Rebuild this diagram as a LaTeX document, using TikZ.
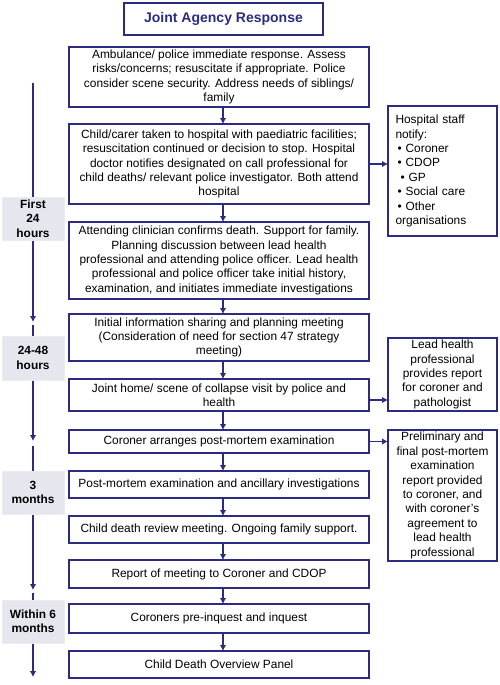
\documentclass[tikz,border=0pt]{standalone}
\usepackage{fontspec}
\setmainfont{Liberation Sans}
\usetikzlibrary{arrows.meta}
\definecolor{navy}{RGB}{43,43,128}
\definecolor{lblgray}{RGB}{230,230,239}
\begin{document}
\begin{tikzpicture}[x=1pt,y=-1pt,
  every node/.style={inner sep=0pt,outer sep=0pt},
  mainbox/.style={draw=navy,line width=1.5pt,minimum width=300pt,align=center,font=\fontsize{11.9}{14.4}\selectfont},
  sidebox/.style={draw=navy,line width=1.5pt,minimum width=109pt,font=\fontsize{11.9}{14.4}\selectfont},
  timelbl/.style={fill=lblgray,draw=lblgray!80!white,line width=0.4pt,minimum width=62pt,align=center,font=\bfseries\fontsize{11.9}{14.4}\selectfont},
  titlebox/.style={draw=navy,line width=1.7pt,minimum width=199pt,minimum height=32pt,font=\bfseries\fontsize{14}{16}\selectfont,text=navy},
  flow/.style={draw=navy,line width=1.5pt,-{Latex[length=6pt,width=6.5pt]}}
]
\useasboundingbox (0,0) rectangle (500,685);
\fill[white] (0,0) rectangle (500,685);

% title
\node[titlebox] (title) at (223.5,19) {Joint Agency Response};

% main column
\node[mainbox,minimum height=60pt] (b1) at (219,77) {Ambulance/ police immediate response. Assess\\risks/concerns; resuscitate if appropriate. Police\\consider scene security. Address needs of siblings/\\family};
\node[mainbox,minimum height=80pt] (b2) at (219,164) {Child/carer taken to hospital with paediatric facilities;\\resuscitation continued or decision to stop. Hospital\\doctor notifies designated on call professional for\\child deaths/ relevant police investigator. Both attend\\hospital};
\node[mainbox,minimum height=77pt] (b3) at (219,260.5) {Attending clinician confirms death. Support for family.\\Planning discussion between lead health\\professional and attending police officer. Lead health\\professional and police officer take initial history,\\examination, and initiates immediate investigations};
\node[mainbox,minimum height=47pt] (b4) at (219,337.5) {Initial information sharing and planning meeting\\(Consideration of need for section 47 strategy\\meeting)};
\node[mainbox,minimum height=32pt] (b5) at (219,395) {Joint home/ scene of collapse visit by police and\\health};
\node[mainbox,minimum height=23pt] (b6) at (219,441.5) {Coroner arranges post-mortem examination};
\node[mainbox,minimum height=27pt] (b7) at (219,484.5) {Post-mortem examination and ancillary investigations};
\node[mainbox,minimum height=27pt] (b8) at (219,529.5) {Child death review meeting. Ongoing family support.};
\node[mainbox,minimum height=28pt] (b9) at (219,574) {Report of meeting to Coroner and CDOP};
\node[mainbox,minimum height=29pt] (b10) at (219,618.5) {Coroners pre-inquest and inquest};
\node[mainbox,minimum height=27pt] (b11) at (219,664.5) {Child Death Overview Panel};

% side boxes
\node[sidebox,minimum height=130pt,inner xsep=7.5pt,text width=94pt,align=left] (hosp) at (442.5,171) {Hospital staff\\notify:\\\hspace*{2pt}\textbullet\ Coroner\\\hspace*{2pt}\textbullet\ CDOP\\\hspace*{5pt}\textbullet\ GP\\\hspace*{2pt}\textbullet\ Social care\\\hspace*{2pt}\textbullet\ Other\\organisations};
\node[sidebox,minimum height=73pt,align=center] (lead) at (442.5,374.5) {Lead health\\professional\\provides report\\for coroner and\\pathologist};
\node[sidebox,minimum height=131pt,align=center] (prelim) at (442.5,495.5) {Preliminary and\\final post-mortem\\examination\\report provided\\to coroner, and\\with coroner's\\agreement to\\lead health\\professional};

% arrows in main column
\coordinate (ax) at (223,0);
\foreach \a/\b in {b1/b2,b2/b3,b3/b4,b4/b5,b5/b6,b6/b7,b7/b8,b8/b9,b9/b10,b10/b11}
  \draw[flow] (\a.south -| ax) -- (\b.north -| ax);

% side arrows
\draw[flow] (b2.east) -- (b2.east -| hosp.west);
\draw[flow] ([yshift=-5pt]b5.east) -- ([yshift=-5pt]b5.east -| lead.west);
\draw[flow] (b6.east) -- (b6.east -| prelim.west);

% timeline
\coordinate (t0) at (33,83);
\coordinate (t1) at (33,322);
\coordinate (t2) at (33,325);
\coordinate (t3) at (33,441);
\coordinate (t4) at (33,446);
\coordinate (t5) at (33,590);
\coordinate (t6) at (33,593);
\coordinate (t7) at (33,677);
\draw[flow] (t0) -- (t1);
\draw[flow] (t2) -- (t3);
\draw[flow] (t4) -- (t5);
\draw[flow] (t6) -- (t7);

\node[timelbl,minimum height=43pt] (l1) at (33,218.5) {First\\24\\hours};
\node[timelbl,minimum height=44pt] (l2) at (33,358) {24-48\\hours};
\node[timelbl,minimum height=43pt] (l3) at (33,492.5) {3\\months};
\node[timelbl,minimum height=43pt] (l4) at (33,621.5) {Within 6\\months};
\end{tikzpicture}
\end{document}
